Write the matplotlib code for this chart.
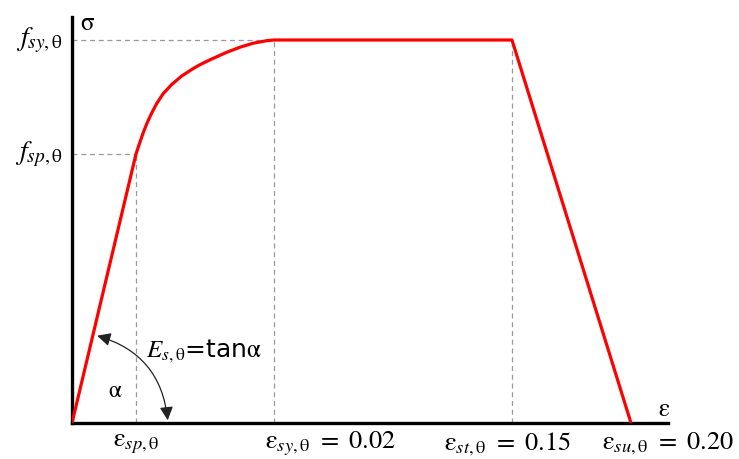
import matplotlib
matplotlib.use("Agg")
import matplotlib.pyplot as plt
from matplotlib.patches import FancyArrowPatch

plt.rcParams['mathtext.fontset'] = 'stix'
plt.rcParams['font.family'] = ['DejaVu Sans']

# Schematic stress-strain curve (arbitrary schematic units)
strain = [0, 64, 66, 68, 71.3, 75.3, 79.7, 84.7, 91.3, 99.7, 109.7, 121.3, 128,
          136.3, 141.3, 154.7, 168, 181.3, 194.7, 202, 440, 559]
stress = [0, 269, 275, 281, 290.5, 300.5, 310, 319.5, 329.5, 338.5, 347, 354.5, 358.3,
          362.4, 364.7, 370.7, 375.8, 379.8, 382.3, 383, 383, 0]

# key points
eps_sp, eps_sy, eps_st, eps_su = 64, 202, 440, 559
f_sp, f_sy = 269, 383

x_tick_pos = [eps_sp, 258, 435, 596]
x_tick_labels = [r'$\mathrm{\varepsilon}_{sp,\mathrm{\theta}}$',
                 r'$\mathrm{\varepsilon}_{sy,\mathrm{\theta}}\ =\ \mathrm{0.02}$',
                 r'$\mathrm{\varepsilon}_{st,\mathrm{\theta}}\ =\ \mathrm{0.15}$',
                 r'$\mathrm{\varepsilon}_{su,\mathrm{\theta}}\ =\ \mathrm{0.20}$']
y_tick_pos = [f_sp, f_sy]
y_tick_labels = [r'$f_{sp,\mathrm{\theta}}$', r'$f_{sy,\mathrm{\theta}}$']

W, H = 739, 459
fig = plt.figure(figsize=(W / 100, H / 100), dpi=100)
ax = fig.add_axes([72 / W, (H - 423) / H, 596 / W, (423 - 17) / H])
ax.set_xlim(0, 596)
ax.set_ylim(0, 406)

for s in ['top', 'right']:
    ax.spines[s].set_visible(False)
for s in ['left', 'bottom']:
    ax.spines[s].set_linewidth(2.4)
    ax.spines[s].set_color('black')
ax.set_xticks([])
ax.set_yticks([])

dash_kw = dict(color='#999999', lw=0.9, ls=(0, (4, 3)), zorder=1)
ax.plot([0, eps_sp], [f_sp, f_sp], **dash_kw)
ax.plot([0, eps_sy], [f_sy, f_sy], **dash_kw)
ax.plot([eps_sp, eps_sp], [0, f_sp], **dash_kw)
ax.plot([eps_sy, eps_sy], [0, f_sy], **dash_kw)
ax.plot([eps_st, eps_st], [0, f_sy], **dash_kw)

ax.plot(strain, stress, color='#ff0000', lw=2.3, zorder=3,
        solid_capstyle='butt', solid_joinstyle='round')

# tick labels as text
for xp, lab in zip(x_tick_pos, x_tick_labels):
    ax.text(xp, -7, lab, ha='center', va='top', fontsize=19, clip_on=False)
for yp, lab in zip(y_tick_pos, y_tick_labels):
    ax.text(-9, yp, lab, ha='right', va='center', fontsize=20, clip_on=False)

ax.text(8, 400, r'$\mathrm{\sigma}$', ha='left', va='center', fontsize=18, clip_on=False)
ax.text(592, 14, r'$\mathrm{\varepsilon}$', ha='center', va='center', fontsize=18, clip_on=False)
ax.text(43, 33, r'$\mathrm{\alpha}$', ha='center', va='center', fontsize=17)
ax.text(74, 72, r'$E_{s,\mathrm{\theta}}$=tan$\mathrm{\alpha}$', ha='left', va='center', fontsize=18)

arr = FancyArrowPatch((22.5, 88), (96, 0), connectionstyle='arc3,rad=-0.35',
                      arrowstyle='<|-|>,head_length=8,head_width=4',
                      color='#222222', lw=0.9, zorder=4, clip_on=False)
ax.add_patch(arr)

fig.savefig('out.png', dpi=100)
